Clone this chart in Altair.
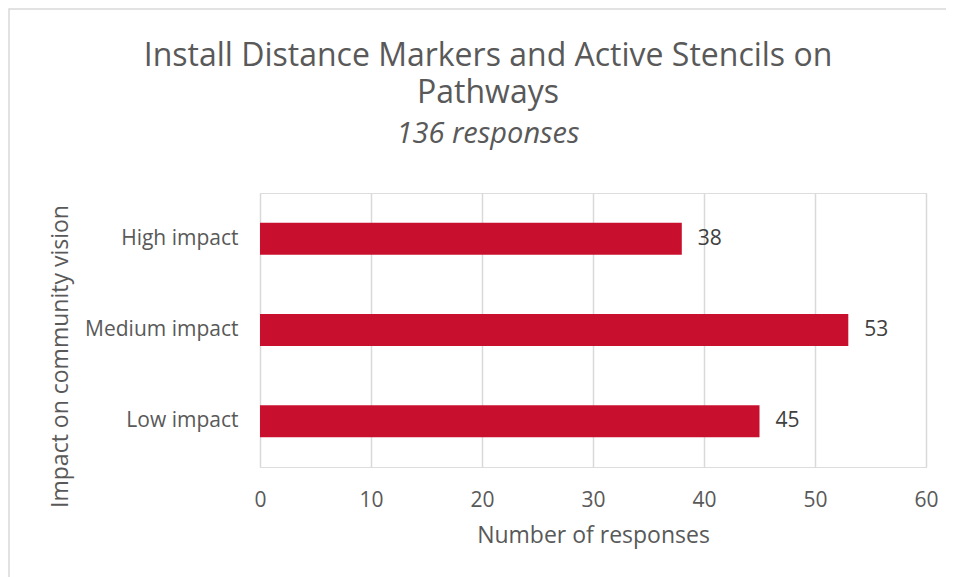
import altair as alt
import pandas as pd

categories = ["High impact", "Medium impact", "Low impact"]
responses = [38, 53, 45]
x_ticks = [0, 10, 20, 30, 40, 50, 60]

title_lines = ["Install Distance Markers and Active Stencils on", "Pathways"]
subtitle_text = "136 responses"
x_title = "Number of responses"
y_title = "Impact on community vision"

FONT = "Open Sans"
TEXT = "#595959"
BAR = "#C8102E"

df = pd.DataFrame({"category": categories, "responses": responses})

base = alt.Chart(df)

bars = base.mark_bar(color=BAR, height=32).encode(
    x=alt.X(
        "responses:Q",
        scale=alt.Scale(domain=[0, 60], nice=False),
        axis=alt.Axis(
            values=x_ticks,
            title=x_title,
            grid=True,
            gridColor="#D9D9D9",
            gridWidth=1.5,
            domain=False,
            ticks=False,
            labelFlush=False,
            labelFont=FONT,
            labelFontSize=21,
            labelColor=TEXT,
            labelPadding=22,
            titleFont=FONT,
            titleFontSize=23,
            titleFontWeight="normal",
            titleColor=TEXT,
            titlePadding=14,
        ),
    ),
    y=alt.Y(
        "category:N",
        sort=categories,
        scale=alt.Scale(paddingInner=0, paddingOuter=0),
        axis=alt.Axis(
            title=y_title,
            domain=False,
            ticks=False,
            labelFont=FONT,
            labelFontSize=21,
            labelColor=TEXT,
            labelPadding=22,
            titleFont=FONT,
            titleFontSize=23,
            titleFontWeight="normal",
            titleColor=TEXT,
            titleAngle=-90,
            titleAlign="center",
            titleBaseline="alphabetic",
            titleX=-193,
            titleY=163,
        ),
    ),
)

labels = base.mark_text(
    align="left", baseline="middle", dx=16, font=FONT, fontSize=21, color="#404040"
).encode(
    x="responses:Q",
    y=alt.Y("category:N", sort=categories),
    text="responses:Q",
)

frame = alt.Chart(alt.Data(values=[{}])).mark_rect(
    fill=None, stroke="#D9D9D9", strokeWidth=1.5
).encode(
    x=alt.value(-251), x2=alt.value(720), y=alt.value(-184), y2=alt.value(420)
)

chart = alt.layer(frame, bars, labels).properties(
    width=666,
    height=274,
    padding={"left": 252, "top": 185, "right": 20, "bottom": 110},
    autosize=alt.AutoSizeParams(type="none"),
    title=alt.TitleParams(
        text=title_lines,
        subtitle=subtitle_text,
        anchor="middle",
        frame="group",
        dx=-105,
        font=FONT,
        fontSize=32,
        fontWeight="normal",
        color=TEXT,
        lineHeight=37,
        subtitleFont=FONT,
        subtitleFontSize=29,
        subtitleFontStyle="italic",
        subtitleColor=TEXT,
        subtitlePadding=10,
        offset=-142,
    ),
).configure_view(stroke=None).configure(background="white")

chart.save("out.html", embed_options={"renderer": "svg", "actions": False})
